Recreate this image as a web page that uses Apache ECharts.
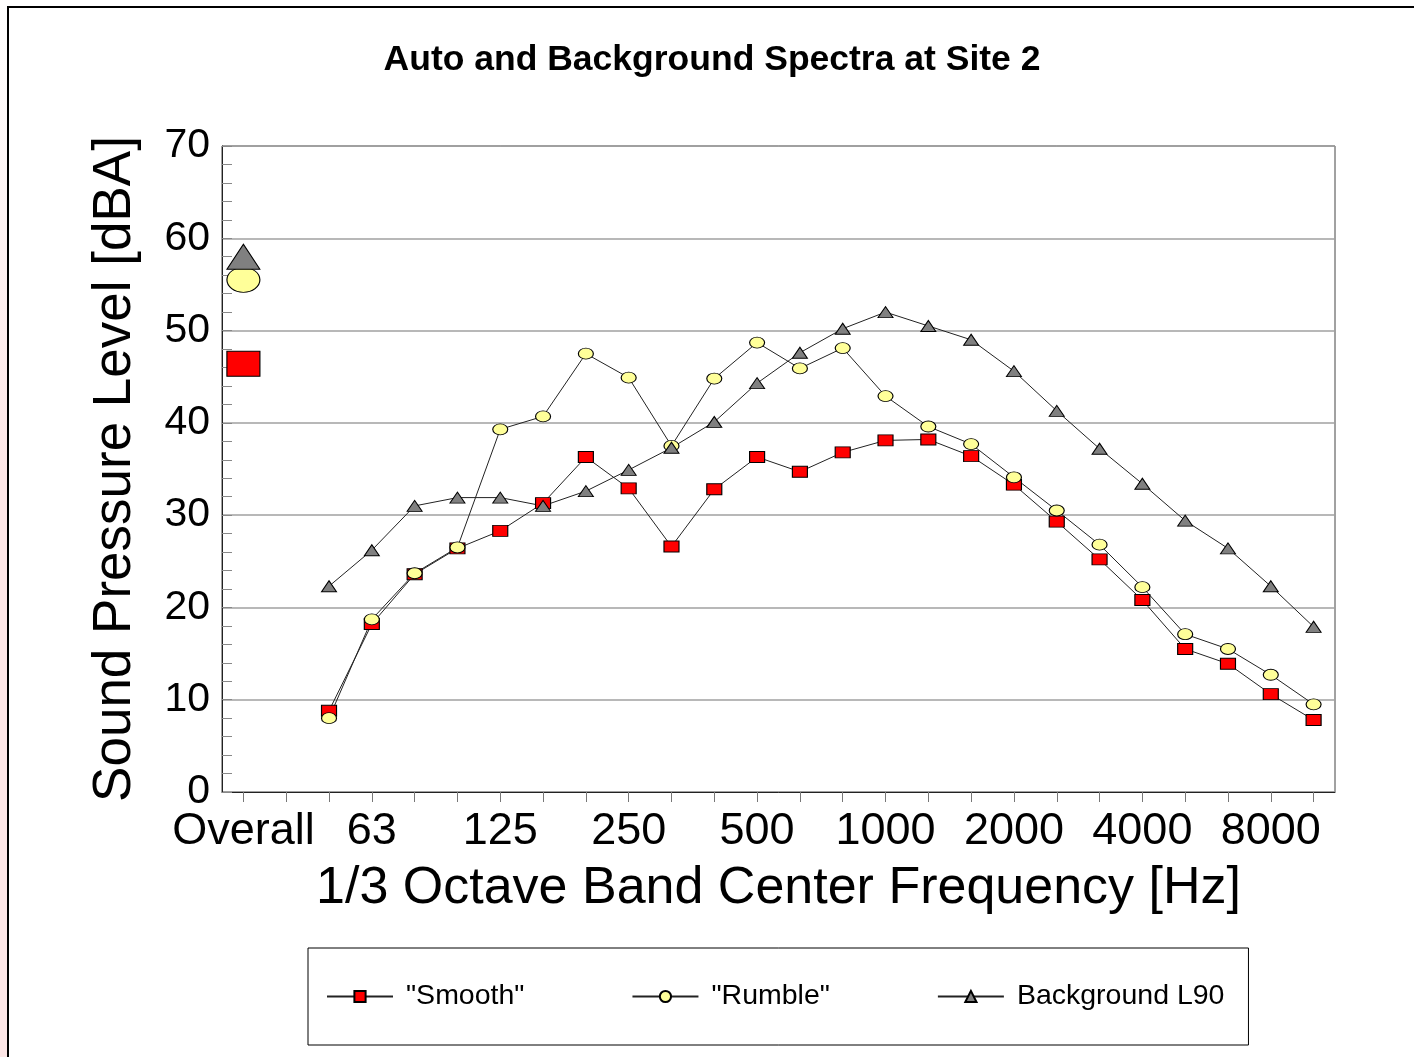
<!DOCTYPE html>
<html>
<head>
<meta charset="utf-8">
<title>Auto and Background Spectra at Site 2</title>
<script src="https://cdn.jsdelivr.net/npm/echarts@6/dist/echarts.min.js"></script>
<style>
  html, body { margin: 0; padding: 0; background: #fff; }
  #main { position: absolute; left: 0; top: 0; width: 1414px; height: 1057px; }
  /* frame round the picture */
  #frame { position: absolute; left: 7px; top: 6px; right: 0; bottom: 0;
           border-top: 2px solid #000; border-left: 2px solid #000; pointer-events: none; }
  #edge { position: absolute; left: 0; top: 0; width: 7px; height: 1057px;
          background: linear-gradient(#fff, #fde6e6 45%, #fde6e6); }
</style>
</head>
<body>
<div id="edge"></div>
<div id="main"></div>
<div id="frame"></div>
<script>
// x categories: Overall, an empty slot, then the 1/3 octave bands
var categories = ['Overall', '', '50', '63', '80', '100', '125', '160', '200', '250', '315', '400',
  '500', '630', '800', '1000', '1250', '1600', '2000', '2500', '3150', '4000', '5000', '6300', '8000', '10000'];

// overall levels (big markers)
var overallSmooth = 46.4;
var overallRumble = 55.5;
var overallBackground = 58.0;

// band levels, 50 Hz .. 10 kHz
var smooth = [8.8, 18.2, 23.6, 26.4, 28.3, 31.3, 36.3, 32.9, 26.6, 32.8, 36.3, 34.7,
  36.8, 38.1, 38.2, 36.4, 33.3, 29.3, 25.2, 20.8, 15.5, 13.9, 10.6, 7.8];
var rumble = [8.0, 18.7, 23.7, 26.5, 39.3, 40.7, 47.5, 44.9, 37.5, 44.8, 48.7, 45.9,
  48.1, 42.9, 39.6, 37.7, 34.1, 30.5, 26.8, 22.2, 17.1, 15.5, 12.7, 9.5];
var background = [22.3, 26.2, 31.0, 31.9, 31.9, 31.0, 32.6, 34.9, 37.3, 40.1, 44.3, 47.6,
  50.2, 52.0, 50.5, 49.0, 45.6, 41.3, 37.2, 33.4, 29.4, 26.4, 22.3, 17.9];

var yTicks = { min: 0, max: 70, interval: 10 };

function buildData(overall, bands) {
  var d = [{ value: overall, symbolSize: [33, 25] }, '-'];
  return d.concat(bands);
}

var myChart = echarts.init(document.getElementById('main'));

function lineSeries(name, overall, bands, symbol, fill) {
  return {
    name: name,
    type: 'line',
    data: buildData(overall, bands),
    symbol: symbol,
    symbolSize: [15, 11],
    showAllSymbol: true,
    connectNulls: false,
    animation: false,
    lineStyle: { color: '#222', width: 1 },
    itemStyle: { color: fill, borderColor: '#000', borderWidth: 1, opacity: 1 },
    emphasis: { disabled: true }
  };
}

var option = {
  animation: false,
  textStyle: { fontFamily: 'Liberation Sans, Arial, sans-serif' },
  title: {
    text: 'Auto and Background Spectra at Site 2',
    left: 707,
    textAlign: 'center',
    top: 37,
    textStyle: { fontSize: 35.5, fontWeight: 'bold', color: '#000', fontFamily: 'Liberation Sans, Arial, sans-serif' }
  },
  grid: {
    left: 222, right: 79, top: 146, bottom: 265,
    show: true, borderColor: '#444', borderWidth: 1, backgroundColor: 'transparent'
  },
  legend: {
    left: 308,
    top: 948,
    padding: [34, 24, 34, 18],
    itemWidth: 66,
    itemHeight: 14,
    itemGap: 107,
    borderColor: '#000',
    borderWidth: 1,
    textStyle: { fontSize: 28.5, color: '#000', padding: [0, 0, 0, 8], fontFamily: 'Liberation Sans, Arial, sans-serif' }
  },
  xAxis: {
    type: 'category',
    data: categories,
    boundaryGap: true,
    name: '1/3 Octave Band Center Frequency [Hz]',
    nameLocation: 'middle',
    nameGap: 71,
    nameTextStyle: { fontSize: 52, color: '#000' },
    axisLine: { lineStyle: { color: '#222', width: 1 } },
    axisTick: { show: true, interval: 0, alignWithLabel: true, length: 10, lineStyle: { color: '#777' } },
    axisLabel: { interval: 2, fontSize: 45, color: '#000', margin: 17 },
    splitLine: { show: false }
  },
  yAxis: {
    type: 'value',
    min: yTicks.min,
    max: yTicks.max,
    interval: yTicks.interval,
    name: 'Sound Pressure Level [dBA]',
    nameLocation: 'middle',
    nameGap: 80,
    nameTextStyle: { fontSize: 53, color: '#000' },
    axisLine: { show: true, lineStyle: { color: '#222', width: 1 } },
    axisTick: { show: true, inside: true, length: 10, lineStyle: { color: '#888' } },
    minorTick: { show: true, splitNumber: 5, length: 10, lineStyle: { color: '#888' } },
    axisLabel: { fontSize: 41, color: '#000', margin: 12 },
    splitLine: { show: true, lineStyle: { color: '#a0a0a0', width: 1.5 } }
  },
  series: [
    lineSeries('"Smooth"', overallSmooth, smooth, 'rect', '#ff0000'),
    lineSeries('"Rumble"', overallRumble, rumble, 'circle', '#ffff99'),
    lineSeries('Background L90', overallBackground, background, 'triangle', '#808080')
  ]
};

myChart.setOption(option);
</script>
</body>
</html>
